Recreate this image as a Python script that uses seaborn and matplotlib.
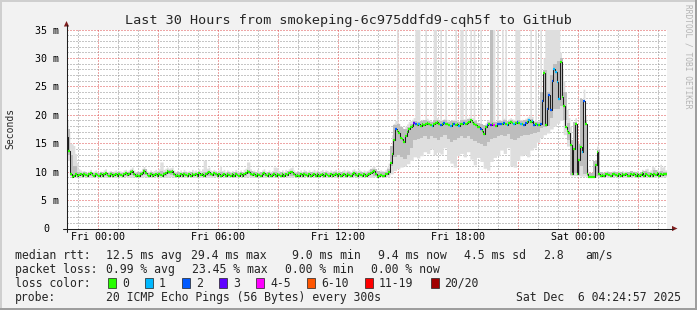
import numpy as np
import pandas as pd
import matplotlib
matplotlib.use("Agg")
import matplotlib.pyplot as plt
import seaborn as sns
from matplotlib.patches import Rectangle, Polygon
from matplotlib.lines import Line2D
from matplotlib.transforms import ScaledTranslation

# ---------------- data ----------------
# median RTT (ms), one value per 5-minute step, starting Thu 22:25
median_ms = [
    16.1, 13.7, 9.6, 9.0, 9.3, 9.5, 9.2, 9.4, 9.6, 9.3,
    9.5, 9.4, 9.2, 9.5, 9.7, 9.4, 9.3, 9.6, 9.4, 9.2,
    9.5, 9.3, 9.6, 9.8, 9.4, 9.3, 9.5, 9.2, 9.4, 9.6,
    9.3, 9.5, 9.4, 9.2, 9.5, 9.7, 9.4, 9.5, 9.9, 10.1,
    9.6, 9.3, 9.4, 9.2, 9.5, 9.8, 10.2, 9.7, 9.4, 9.3,
    9.5, 9.2, 9.4, 9.6, 9.3, 9.5, 9.4, 9.2, 9.6, 9.8,
    10.1, 9.9, 10.0, 10.1, 9.6, 9.3, 9.4, 9.2, 9.5, 9.3,
    9.6, 9.4, 9.2, 9.5, 9.3, 9.6, 9.4, 9.5, 9.3, 9.7,
    9.4, 9.6, 9.3, 9.5, 9.8, 10.0, 9.6, 9.4, 9.7, 9.5,
    9.3, 9.5, 9.2, 9.4, 9.6, 9.3, 9.5, 9.4, 9.2, 9.5,
    9.3, 9.6, 9.4, 9.2, 9.5, 9.3, 9.6, 9.8, 10.1, 10.0,
    9.6, 9.4, 9.5, 9.3, 9.6, 9.4, 9.2, 9.5, 9.7, 9.4,
    9.3, 9.5, 9.2, 9.4, 9.6, 9.3, 9.5, 9.4, 9.2, 9.5,
    9.3, 9.6, 9.4, 9.7, 9.9, 10.0, 9.5, 9.3, 9.4, 9.2,
    9.5, 9.3, 9.6, 9.4, 9.2, 9.5, 9.3, 9.4, 9.6, 9.3,
    9.5, 9.2, 9.4, 9.6, 9.3, 9.5, 9.4, 9.2, 9.5, 9.3,
    9.4, 9.6, 9.3, 9.5, 9.2, 9.4, 9.6, 9.3, 9.5, 9.4,
    9.2, 9.5, 9.7, 9.4, 9.3, 9.6, 9.4, 9.2, 9.5, 9.3,
    9.4, 9.6, 9.8, 10.0, 10.2, 9.6, 9.1, 9.2, 9.4, 9.3,
    9.2, 9.5, 9.6, 9.9, 11.5, 13.1, 15.5, 17.5, 17.2, 16.8,
    16.0, 15.8, 15.2, 16.2, 16.9, 17.5, 17.8, 18.1, 18.5, 18.4,
    18.2, 18.3, 18.1, 18.3, 18.2, 18.4, 18.6, 18.3, 18.2, 18.1,
    18.3, 18.5, 18.7, 18.4, 18.2, 18.3, 18.5, 18.3, 18.4, 18.2,
    18.1, 18.3, 18.4, 18.2, 18.3, 18.1, 18.3, 18.4, 18.5, 18.4,
    18.6, 18.8, 19.0, 18.7, 18.4, 18.2, 17.9, 17.8, 17.5, 17.2,
    16.7, 17.8, 18.2, 18.3, 18.2, 18.3, 18.2, 18.1, 18.3, 18.3,
    18.3, 18.4, 18.6, 18.4, 18.2, 18.5, 18.7, 18.5, 18.4, 18.5,
    18.7, 18.5, 18.3, 18.4, 18.2, 18.6, 18.8, 19.0, 18.7, 18.9,
    18.2, 18.3, 18.2, 18.2, 18.3, 22.5, 27.4, 18.2, 21.0, 23.4,
    20.9, 26.0, 28.1, 27.5, 25.7, 22.7, 29.3, 23.1, 21.6, 17.8,
    17.2, 16.8, 14.6, 9.5, 14.0, 18.3, 9.5, 12.0, 14.4, 13.4,
    22.5, 18.3, 9.5, 9.1, 9.0, 9.1, 9.1, 11.2, 13.4, 9.5,
    9.3, 9.4, 9.2, 9.5, 9.6, 9.4, 9.3, 9.5, 9.6, 9.4,
    9.2, 9.5, 9.3, 9.6, 9.4, 9.5, 9.3, 9.2, 9.6, 9.4,
    9.5, 9.3, 9.6, 9.2, 9.4, 9.7, 9.3, 9.5, 9.4, 9.2,
    9.6, 9.3, 9.5, 9.4, 9.7, 9.3, 9.5, 9.4, 9.6, 9.5,
]

# steps with lost pings (index into median_ms) and number of lost pings (of 20)
loss_steps = [197, 208, 209, 211, 219, 224, 226, 230, 232, 235, 238, 248, 252, 254,
              256, 258, 259, 260, 262, 264, 268, 270, 272, 274, 275, 277, 279, 280,
              282, 284, 285, 288, 289, 290, 291, 292, 293, 294, 295, 309, 310]
loss_counts = [2, 3, 2, 1, 1, 2, 2, 1, 2, 1, 2, 2, 2, 3,
               4, 2, 2, 2, 2, 1, 1, 2, 1, 2, 2, 1, 1, 2,
               2, 2, 2, 2, 2, 2, 2, 1, 1, 1, 1, 1, 2]

# highest ping per 5-minute step (ms); 36 = off the top of the chart
smoke_max_ms = [
    19.0, 17.0, 15.0, 14.9, 14.6, 13.2, 11.6, 10.5, 10.3, 10.1,
    10.2, 10.0, 9.9, 10.1, 10.4, 10.0, 10.1, 10.3, 10.0, 9.9,
    10.1, 10.0, 10.3, 10.5, 10.0, 10.1, 10.2, 9.9, 10.1, 10.3,
    10.0, 10.2, 10.1, 10.0, 10.3, 10.4, 10.1, 10.3, 10.6, 10.8,
    10.3, 10.0, 10.1, 10.0, 10.2, 10.6, 10.9, 10.4, 10.1, 10.0,
    10.3, 10.0, 10.2, 10.4, 10.1, 10.5, 11.7, 11.7, 10.4, 10.6,
    10.8, 10.6, 10.7, 10.8, 10.3, 10.0, 10.2, 9.9, 10.3, 10.0,
    10.4, 10.1, 10.0, 10.2, 10.0, 10.4, 10.1, 10.3, 10.0, 10.5,
    10.2, 10.5, 12.0, 12.0, 10.6, 10.8, 10.3, 10.2, 10.4, 10.2,
    10.0, 10.3, 11.1, 10.2, 10.4, 10.0, 10.3, 10.1, 10.0, 10.2,
    10.0, 10.4, 10.1, 10.0, 10.3, 10.0, 10.4, 10.6, 11.7, 11.7,
    10.5, 10.2, 10.3, 10.0, 10.4, 10.1, 10.0, 10.3, 10.5, 10.1,
    10.0, 10.3, 10.0, 10.2, 10.8, 10.8, 10.7, 10.2, 10.0, 10.3,
    10.0, 10.4, 10.2, 10.5, 10.7, 10.8, 10.3, 10.0, 10.2, 10.0,
    10.3, 10.0, 10.4, 10.2, 10.0, 10.3, 10.0, 10.1, 10.4, 10.1,
    10.3, 10.0, 10.2, 10.4, 10.0, 10.3, 10.2, 10.0, 10.3, 10.1,
    10.2, 10.4, 10.0, 10.3, 10.0, 10.2, 10.4, 10.1, 10.3, 10.2,
    10.0, 10.3, 10.5, 10.2, 10.1, 10.4, 10.2, 10.0, 10.3, 10.1,
    10.2, 10.4, 10.6, 10.8, 11.0, 10.4, 10.0, 10.1, 10.3, 10.2,
    10.1, 10.4, 10.8, 11.5, 13.5, 16.5, 18.5, 19.0, 36.0, 18.5,
    18.0, 17.8, 17.5, 18.0, 18.4, 18.8, 19.0, 19.2, 19.5, 36.0,
    36.0, 36.0, 19.0, 19.2, 19.0, 36.0, 19.4, 19.1, 19.0, 18.9,
    36.0, 36.0, 19.5, 19.2, 36.0, 19.1, 19.3, 36.0, 19.2, 19.0,
    18.9, 19.1, 19.2, 36.0, 19.1, 18.9, 36.0, 36.0, 19.3, 36.0,
    19.4, 19.6, 36.0, 19.5, 36.0, 19.0, 18.7, 18.6, 36.0, 18.0,
    17.5, 18.6, 19.0, 19.1, 36.0, 36.0, 36.0, 18.9, 36.0, 19.1,
    19.1, 36.0, 19.4, 36.0, 19.0, 19.3, 19.5, 19.3, 19.2, 36.0,
    36.0, 36.0, 19.1, 19.2, 19.0, 19.4, 19.6, 19.8, 36.0, 19.7,
    19.0, 36.0, 19.0, 19.0, 36.0, 23.5, 30.0, 36.0, 36.0, 36.0,
    36.0, 36.0, 36.0, 36.0, 36.0, 36.0, 31.0, 28.0, 26.0, 22.0,
    21.0, 19.5, 18.0, 12.0, 16.0, 19.5, 12.0, 15.0, 17.0, 20.0,
    24.5, 20.0, 10.5, 9.6, 9.5, 9.6, 9.7, 12.0, 14.5, 10.0,
    9.8, 10.0, 9.8, 10.1, 10.2, 10.0, 9.9, 10.1, 10.2, 10.0,
    9.8, 10.1, 9.9, 10.2, 10.0, 10.1, 9.9, 9.8, 10.2, 10.0,
    10.1, 9.9, 10.2, 9.8, 10.0, 10.4, 10.0, 10.5, 10.6, 9.9,
    10.3, 11.0, 10.8, 10.0, 10.4, 10.2, 11.3, 10.8, 11.0, 10.3,
]

# lowest ping per 10-minute step (ms)
smoke_min_ms = [
    12.0, 9.2, 9.0, 9.1, 9.0, 9.1, 9.0, 9.0, 9.1, 9.0,
    9.1, 9.0, 9.0, 9.1, 9.0, 9.1, 9.0, 9.1, 9.0, 9.0,
    9.1, 9.0, 9.0, 9.1, 9.0, 9.0, 9.1, 9.0, 9.1, 9.0,
    9.0, 9.1, 9.0, 9.1, 9.0, 9.0, 9.1, 9.0, 9.0, 9.1,
    9.0, 9.1, 9.0, 9.0, 9.1, 9.0, 9.1, 9.0, 9.0, 9.1,
    9.0, 9.0, 9.1, 9.0, 9.1, 9.0, 9.0, 9.1, 9.0, 9.0,
    9.1, 9.0, 9.0, 9.1, 9.0, 9.1, 9.0, 9.0, 9.1, 9.0,
    9.0, 9.1, 9.0, 9.1, 9.0, 9.0, 9.1, 9.0, 9.0, 9.1,
    9.0, 9.1, 9.0, 9.0, 9.1, 9.0, 9.1, 9.0, 9.0, 9.1,
    9.0, 9.0, 9.1, 9.0, 9.1, 9.0, 9.1, 9.6, 10.2, 10.5,
    10.8, 11.0, 11.4, 12.0, 12.6, 12.4, 12.8, 13.5, 13.2, 14.0,
    13.0, 13.4, 13.1, 14.2, 12.0, 11.5, 10.8, 12.8, 13.2, 12.6,
    13.5, 12.2, 11.2, 12.5, 11.8, 10.6, 10.3, 11.8, 12.5, 12.8,
    13.8, 13.2, 14.2, 11.0, 10.8, 12.0, 12.8, 13.0, 12.6, 13.8,
    14.2, 15.2, 16.0, 16.5, 16.8, 17.5, 18.0, 18.5, 19.0, 16.5,
    14.5, 9.3, 9.3, 9.3, 9.2, 9.2, 9.0, 9.0, 9.0, 9.1,
    9.0, 9.1, 9.0, 9.0, 9.1, 9.0, 9.1, 9.0, 9.0, 9.1,
    9.0, 9.1, 9.0, 9.0, 9.1, 9.0, 9.0, 9.1, 9.0, 9.1,
]

# central pings (lower / upper quartile) per 10-minute step (ms)
smoke_q1_ms = [
    13.0, 9.3, 9.2, 9.2, 9.3, 9.2, 9.3, 9.2, 9.2, 9.3,
    9.2, 9.3, 9.2, 9.2, 9.3, 9.2, 9.2, 9.3, 9.2, 9.4,
    9.2, 9.3, 9.2, 9.4, 9.2, 9.2, 9.3, 9.2, 9.3, 9.2,
    9.5, 9.4, 9.2, 9.3, 9.2, 9.2, 9.3, 9.2, 9.2, 9.3,
    9.2, 9.3, 9.3, 9.2, 9.2, 9.3, 9.2, 9.2, 9.3, 9.2,
    9.2, 9.3, 9.2, 9.2, 9.5, 9.3, 9.2, 9.2, 9.3, 9.2,
    9.2, 9.3, 9.2, 9.2, 9.3, 9.2, 9.5, 9.3, 9.2, 9.2,
    9.3, 9.2, 9.2, 9.3, 9.2, 9.2, 9.3, 9.2, 9.2, 9.3,
    9.2, 9.2, 9.3, 9.2, 9.2, 9.3, 9.2, 9.2, 9.3, 9.2,
    9.2, 9.5, 9.2, 9.2, 9.2, 9.4, 9.4, 11.0, 12.5, 13.0,
    12.6, 12.2, 13.0, 14.2, 15.5, 15.8, 16.0, 16.2, 15.8, 16.3,
    16.0, 15.6, 16.1, 16.4, 15.8, 15.2, 15.5, 16.0, 16.2, 15.9,
    16.3, 15.8, 15.4, 15.0, 14.8, 14.5, 15.2, 15.8, 16.0, 16.2,
    16.5, 16.3, 16.6, 15.8, 15.5, 16.0, 16.3, 16.5, 16.4, 16.6,
    16.8, 17.0, 17.6, 17.8, 18.0, 19.5, 21.0, 21.0, 21.5, 19.0,
    15.5, 9.4, 9.8, 9.4, 11.0, 9.6, 9.2, 9.1, 9.3, 9.3,
    9.2, 9.3, 9.2, 9.2, 9.3, 9.2, 9.3, 9.2, 9.2, 9.3,
    9.2, 9.3, 9.2, 9.2, 9.3, 9.2, 9.2, 9.3, 9.2, 9.3,
]
smoke_q3_ms = [
    17.5, 13.0, 11.0, 10.0, 9.8, 9.9, 9.8, 9.9, 9.8, 9.8,
    9.9, 9.8, 9.8, 9.9, 9.8, 9.9, 9.8, 9.8, 9.9, 10.3,
    9.8, 9.9, 9.9, 10.4, 9.8, 9.9, 9.8, 9.9, 10.1, 9.9,
    10.3, 10.3, 9.8, 9.9, 9.8, 9.9, 9.8, 9.9, 9.8, 9.9,
    9.8, 10.0, 10.1, 9.8, 9.9, 9.8, 9.9, 9.8, 9.9, 9.8,
    9.9, 9.8, 9.9, 9.8, 10.3, 10.2, 9.9, 9.8, 9.9, 9.8,
    9.9, 9.8, 9.9, 9.8, 9.9, 9.8, 10.2, 10.1, 9.8, 9.9,
    9.8, 9.9, 9.8, 9.9, 9.8, 9.9, 9.8, 9.9, 9.8, 9.8,
    9.9, 9.8, 9.9, 9.8, 9.9, 9.8, 9.9, 9.8, 9.9, 9.8,
    9.9, 10.4, 10.4, 10.1, 9.9, 10.0, 10.5, 14.5, 18.2, 18.4,
    17.8, 17.5, 17.9, 18.4, 18.9, 18.8, 18.9, 19.1, 18.9, 18.8,
    19.0, 19.1, 18.9, 19.0, 18.8, 18.9, 18.9, 18.8, 19.0, 19.1,
    19.3, 19.1, 18.9, 18.6, 18.4, 18.2, 18.7, 36.0, 18.8, 18.9,
    18.9, 19.0, 18.9, 19.1, 18.9, 19.1, 18.9, 19.0, 19.3, 19.2,
    18.8, 18.8, 24.0, 27.8, 24.0, 27.0, 29.0, 29.5, 30.0, 24.0,
    18.5, 15.5, 18.8, 14.8, 22.8, 19.0, 9.8, 9.7, 11.8, 13.8,
    9.9, 9.8, 9.9, 9.8, 9.9, 9.8, 9.9, 9.8, 9.9, 10.1,
    9.9, 9.8, 9.9, 10.2, 9.9, 9.8, 10.3, 10.0, 10.2, 9.9,
]

loss_labels = ["0", "1", "2", "3", "4-5", "6-10", "11-19", "20/20"]
loss_upper = [0, 1, 2, 3, 5, 10, 19, 20]
loss_colors = ["#26ff00", "#00b8ff", "#0059ff", "#5e00ff", "#ff00ff",
               "#ff5500", "#ff0000", "#a10000"]

x_tick_labels = ["Fri 00:00", "Fri 06:00", "Fri 12:00", "Fri 18:00", "Sat 00:00"]
y_tick_values = [0, 5, 10, 15, 20, 25, 30, 35]
y_tick_labels = ["0", "5 m", "10 m", "15 m", "20 m", "25 m", "30 m", "35 m"]

title = "Last 30 Hours from smokeping-6c975ddfd9-cqh5f to GitHub"
rtt_stats = ["12.5 ms avg", "29.4 ms max", "9.0 ms min", "9.4 ms now", "4.5 ms sd", "2.8", "am/s"]
pl_stats = ["0.99 % avg", "23.45 % max", "0.00 % min", "0.00 % now"]
probe_text = "20 ICMP Echo Pings (56 Bytes) every 300s"
stamp_text = "Sat Dec  6 04:24:57 2025"

# ---------------- drawing ----------------
sns.set_theme(style="white")
MONO = "DejaVu Sans Mono"
plt.rcParams["font.family"] = [MONO]

W, H = 697, 310
fig = plt.figure(figsize=(W / 100, H / 100), dpi=100)
fig.patch.set_facecolor("#f2f2f2")


def fx(px):
    return px / W


def fy(py):
    return 1 - py / H


X0, Y0, PW, PH = 66.5, 228.5, 600.0, 199.0
ax = fig.add_axes([fx(X0), fy(Y0), PW / W, PH / H])
ax.set_facecolor("white")
for s in ax.spines.values():
    s.set_visible(False)

n5 = len(median_ms)
edges5 = np.arange(n5 + 1) * 5 / 60.0
n10 = len(smoke_min_ms)
edges10 = np.arange(n10 + 1) * 10 / 60.0

med = np.array(median_ms)
smax = np.array(smoke_max_ms)
smin5 = np.repeat(np.array(smoke_min_ms), 2)
q1 = np.array(smoke_q1_ms)
q3 = np.array(smoke_q3_ms)

# smoke
ax.fill_between(edges5, np.append(smin5, smin5[-1]), np.append(smax, smax[-1]),
                step="post", color="#dedede", lw=0, zorder=2)
ax.fill_between(edges10, np.append(q1, q1[-1]), np.append(q3, q3[-1]),
                step="post", color="#bdbdbd", lw=0, zorder=3)

# median line (black staircase)
df = pd.DataFrame({"t": edges5, "ms": np.append(med, med[-1])})
sns.lineplot(data=df, x="t", y="ms", drawstyle="steps-post", color="#202020",
             lw=0.75, ax=ax, estimator=None, zorder=4)

# loss colored median segments
loss = np.zeros(n5, dtype=int)
loss[loss_steps] = loss_counts


def loss_bin(c):
    for b, ub in enumerate(loss_upper):
        if c <= ub:
            return b
    return len(loss_upper) - 1


seg_cols = [loss_colors[loss_bin(c)] for c in loss]
ax.hlines(med, edges5[:-1], edges5[1:], colors=seg_cols, lw=1.6, zorder=5,
          capstyle="butt")

# axes, grid
ax.set_xlim(0, 30)
ax.set_ylim(0, 35)
first_hour = 35 / 60.0  # Thu 23:00
minor_x = first_hour + np.arange(0, 30)
major_x = first_hour + 1 + np.arange(0, 29, 3)
ax.set_xticks(major_x)
xl = []
for i in range(len(major_x)):
    xl.append(x_tick_labels[i // 2] if i % 2 == 0 else "")
ax.set_xticklabels(xl)
ax.set_xticks(minor_x, minor=True)
ax.set_yticks(y_tick_values)
ax.set_yticklabels(y_tick_labels)
ax.set_yticks(np.arange(0, 36), minor=True)

major_col = (0.87, 0.31, 0.31, 0.45)
minor_col = (0.56, 0.56, 0.56, 0.5)
ax.grid(True, which="major", color=major_col, ls=(0, (1, 2)), lw=0.72)
ax.grid(True, which="minor", color=minor_col, ls=(0, (1, 2)), lw=0.72)
ax.set_axisbelow(True)
ax.tick_params(axis="both", which="major", length=3, width=0.72, color=major_col,
               direction="inout", labelsize=7.2, labelcolor="black")
ax.tick_params(axis="both", which="minor", length=2, width=0.72, color=minor_col,
               direction="inout")
ax.tick_params(axis="x", which="major", pad=1.2)
ax.tick_params(axis="y", which="major", pad=3.6)
for lab in ax.get_yticklabels():
    lab.set_fontfamily(MONO)
    if lab.get_text() == "0":
        lab.set_transform(lab.get_transform() + ScaledTranslation(-10 / 100, 0, fig.dpi_scale_trans))
for lab in ax.get_xticklabels():
    lab.set_fontfamily(MONO)
ax.set_xlabel("")
ax.set_ylabel("")

# axis lines with arrows
AX_COL = "#1f1f1f"
AR_COL = "#801f1f"
fig.add_artist(Line2D([fx(63), fx(673)], [fy(Y0), fy(Y0)], color=AX_COL, lw=0.75))
fig.add_artist(Line2D([fx(X0), fx(X0)], [fy(232), fy(25)], color=AX_COL, lw=0.75))
fig.add_artist(Polygon([[fx(672), fy(Y0 - 2.6)], [fx(677.5), fy(Y0)], [fx(672), fy(Y0 + 2.6)]],
                       closed=True, color=AR_COL, lw=0))
fig.add_artist(Polygon([[fx(X0 - 2.6), fy(26.5)], [fx(X0), fy(21)], [fx(X0 + 2.6), fy(26.5)]],
                       closed=True, color=AR_COL, lw=0))

# title, unit label, watermark
fig.text(0.5, fy(24), title, ha="center", va="baseline", fontsize=9.7, family=MONO)
fig.text(fx(10), fy(128.5), "Seconds", rotation=90, ha="center", va="center",
         fontsize=7.0, family=MONO)
fig.text(fx(688), fy(4), "RRDTOOL / TOBI OETIKER", rotation=-90, ha="center", va="top",
         fontsize=5.7, family=MONO, color="#b4b4b4")

# legend
LF = 8.3
rows = [259, 273, 287, 301]
fig.text(fx(15), fy(rows[0]), "median rtt:", fontsize=LF, family=MONO, va="baseline")
for s, x in zip(rtt_stats, [106, 191, 292, 378, 464, 543, 585]):
    fig.text(fx(x), fy(rows[0]), s, fontsize=LF, family=MONO, va="baseline")
fig.text(fx(15), fy(rows[1]), "packet loss:", fontsize=LF, family=MONO, va="baseline")
for s, x in zip(pl_stats, [106, 192, 285, 371]):
    fig.text(fx(x), fy(rows[1]), s, fontsize=LF, family=MONO, va="baseline")
fig.text(fx(15), fy(rows[2]), "loss color:", fontsize=LF, family=MONO, va="baseline")
box_x = [108, 145, 182, 219, 256, 307, 365, 431]
lab_x = [122, 159, 196, 233, 270, 321, 379, 444]
for bx, lx, c, l in zip(box_x, lab_x, loss_colors, loss_labels):
    fig.add_artist(Rectangle((fx(bx), fy(rows[2] + 1)), 8 / W, 10 / H, facecolor=c,
                             edgecolor="#202020", lw=0.5))
    fig.text(fx(lx), fy(rows[2]), l, fontsize=LF, family=MONO, va="baseline")
fig.text(fx(15), fy(rows[3]), "probe:", fontsize=LF, family=MONO, va="baseline")
fig.text(fx(106), fy(rows[3]), probe_text, fontsize=LF, family=MONO, va="baseline")
fig.text(fx(681), fy(rows[3]), stamp_text, fontsize=LF, family=MONO, va="baseline", ha="right")

# 3D frame
fig.add_artist(Rectangle((0, fy(2)), 1, 2 / H, color="#cfcfcf", lw=0))
fig.add_artist(Rectangle((0, 0), 2 / W, 1, color="#cfcfcf", lw=0))
fig.add_artist(Rectangle((0, 0), 1, 2 / H, color="#9e9e9e", lw=0))
fig.add_artist(Rectangle((1 - 2 / W, 0), 2 / W, 1, color="#9e9e9e", lw=0))

fig.savefig("out.png", dpi=100, facecolor=fig.get_facecolor())
